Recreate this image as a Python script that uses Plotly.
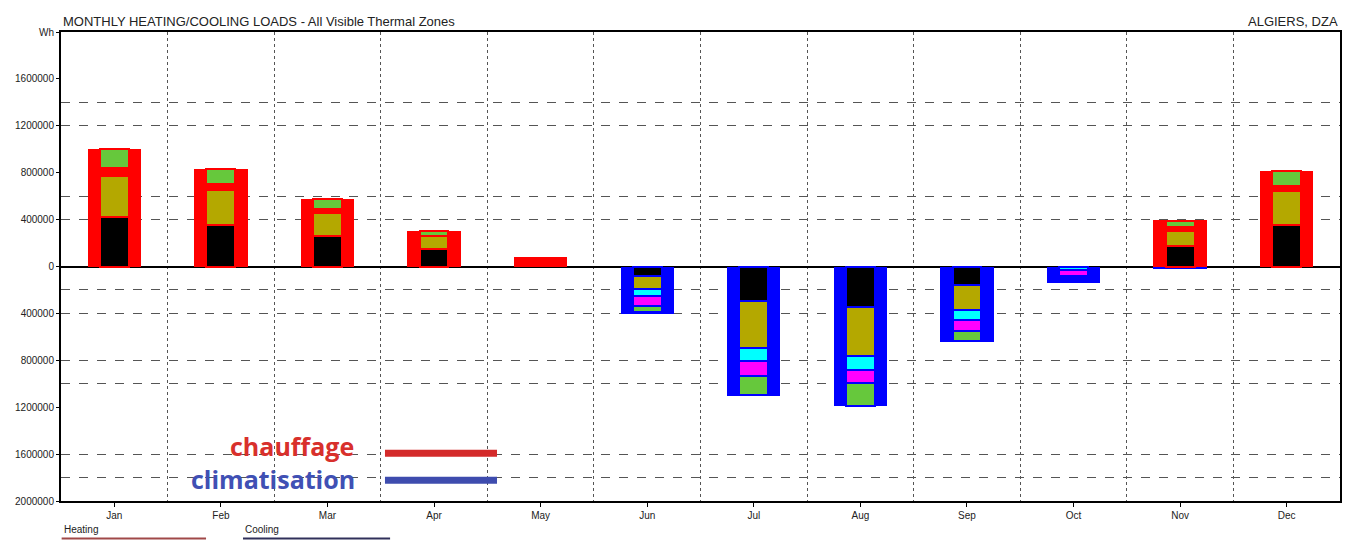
import plotly.graph_objects as go

# ---------------- data ----------------
months = ["Jan", "Feb", "Mar", "Apr", "May", "Jun", "Jul", "Aug", "Sep", "Oct", "Nov", "Dec"]

# total monthly loads (Wh)
heat_total = [998000, 833000, 577000, 299000, 81000, 0, 0, 0, 0, 0, 394000, 812000]
cool_total = [0, 0, 0, 0, 0, -403000, -1106000, -1192000, -640000, -141000, -21000, 0]

# heating breakdown (stacked upward from zero)
heat_black = [426000, 350000, 256000, 149000, 0, 0, 0, 0, 0, 0, 172000, 351000]
heat_olive = [350000, 304000, 199000, 107000, 0, 0, 0, 0, 0, 0, 131000, 290000]
heat_red = [62000, 51000, 37000, 8000, 0, 0, 0, 0, 0, 0, 34000, 43000]
heat_green = [160000, 128000, 85000, 35000, 0, 0, 0, 0, 0, 0, 49000, 128000]

# cooling breakdown (stacked downward from zero)
cool_black = [0, 0, 0, 0, 0, -77000, -290000, -347000, -155000, 0, 0, 0]
cool_olive = [0, 0, 0, 0, 0, -119000, -409000, -418000, -212000, 0, 0, 0]
cool_cyan = [0, 0, 0, 0, 0, -57000, -110000, -115000, -85000, -32000, 0, 0]
cool_magenta = [0, 0, 0, 0, 0, -80000, -122000, -117000, -94000, -46000, 0, 0]
cool_green = [0, 0, 0, 0, 0, -57000, -161000, -189000, -91000, 0, 0, 0]

y_tick_vals = [2000000, 1600000, 1200000, 800000, 400000, 0,
               -400000, -800000, -1200000, -1600000, -2000000]
y_tick_text = ["Wh", "1600000", "1200000", "800000", "400000", "0",
               "400000", "800000", "1200000", "1600000", "2000000"]
y_grid_vals = [1400000, 1200000, 600000, 400000, -200000, -400000,
               -800000, -1000000, -1600000, -1800000]

# ---------------- styles ----------------
RED = "#ff0000"
BLUE = "#0000ff"
C_BLACK = "#000000"
C_OLIVE = "#b4a800"
C_GREEN = "#66c83c"
C_CYAN = "#00ffff"
C_MAGENTA = "#ff00ff"
OUTER_W = 0.5
INNER_W = 0.27

x = list(range(len(months)))


def nz(vals):
    return [v if v != 0 else None for v in vals]


fig = go.Figure()

fig.add_trace(go.Bar(x=x, y=nz(heat_total), width=OUTER_W, marker=dict(color=RED, line=dict(width=0)),
                     name="Heating", showlegend=False))
fig.add_trace(go.Bar(x=x, y=nz(cool_total), width=OUTER_W, marker=dict(color=BLUE, line=dict(width=0)),
                     name="Cooling", showlegend=False))


def add_stack(components, edge):
    base = [0] * len(months)
    for vals, color in components:
        fig.add_trace(go.Bar(
            x=x, y=nz(vals), base=list(base), width=INNER_W,
            marker=dict(color=color, line=dict(color=edge, width=2)),
            showlegend=False))
        base = [b + v for b, v in zip(base, vals)]


add_stack([(heat_black, C_BLACK), (heat_olive, C_OLIVE), (heat_red, RED), (heat_green, C_GREEN)], RED)
add_stack([(cool_black, C_BLACK), (cool_olive, C_OLIVE), (cool_cyan, C_CYAN),
           (cool_magenta, C_MAGENTA), (cool_green, C_GREEN)], BLUE)

FONT = "Liberation Sans, Arial, sans-serif"

# the page body adds an 8px margin, so the figure is 8px smaller and margins are shifted
fig.update_layout(
    width=1344, height=533,
    barmode="overlay",
    bargap=0,
    paper_bgcolor="white",
    plot_bgcolor="white",
    margin=dict(l=53, r=12, t=24, b=40, autoexpand=False),
    font=dict(family=FONT, size=10, color="#222"),
    showlegend=False,
)

fig.update_xaxes(
    range=[-0.5, 11.5],
    tickmode="array", tickvals=x, ticktext=months,
    ticks="outside", ticklen=4, tickcolor="black", tickwidth=1,
    showgrid=False, zeroline=False,
    showline=True, mirror=True, linecolor="black", linewidth=2,
    minor=dict(tickmode="array", tickvals=[i + 0.5 for i in range(11)],
               showgrid=True, gridcolor="#555", griddash="dot", gridwidth=1, ticks=""),
    tickfont=dict(size=10, color="#222"),
)
fig.update_yaxes(
    range=[-2000000, 2000000],
    tickmode="array", tickvals=y_tick_vals, ticktext=y_tick_text,
    ticks="outside", ticklen=3, tickcolor="black",
    showgrid=False,
    zeroline=True, zerolinecolor="black", zerolinewidth=2,
    showline=True, mirror=True, linecolor="black", linewidth=2,
    minor=dict(tickmode="array", tickvals=y_grid_vals, showgrid=True,
               gridcolor="#555", griddash="dash", gridwidth=1, ticks=""),
    tickfont=dict(size=10, color="#222"),
)

# titles
fig.add_annotation(text="MONTHLY HEATING/COOLING LOADS - All Visible Thermal Zones",
                   xref="paper", yref="paper", x=0, y=1.0, xanchor="left", yanchor="bottom",
                   yshift=1, showarrow=False, font=dict(family=FONT, size=13, color="#222"))
fig.add_annotation(text="ALGIERS, DZA",
                   xref="paper", yref="paper", x=1, y=1.0, xanchor="right", yanchor="bottom",
                   yshift=1, showarrow=False, font=dict(family=FONT, size=13, color="#222"))

# overlay labels
BIG = "Open Sans, Noto Sans, sans-serif"
fig.add_annotation(text="<b>chauffage</b>", xref="paper", yref="paper", x=0.2305, y=0.118,
                   xanchor="right", yanchor="middle", showarrow=False,
                   font=dict(family=BIG, size=25, color="#d8302c"))
fig.add_annotation(text="<b>climatisation</b>", xref="paper", yref="paper", x=0.2315, y=0.047,
                   xanchor="right", yanchor="middle", showarrow=False,
                   font=dict(family=BIG, size=25, color="#4050b4"))
fig.add_shape(type="line", xref="paper", yref="paper", x0=0.2533, x1=0.3409, y0=0.1017, y1=0.1017,
              line=dict(color="#d42a2a", width=7))
fig.add_shape(type="line", xref="paper", yref="paper", x0=0.2533, x1=0.3409, y0=0.0441, y1=0.0441,
              line=dict(color="#3e4cae", width=7))

# bottom legend
fig.add_annotation(text="Heating", xref="paper", yref="paper", x=0.0005, y=-0.060,
                   xanchor="left", yanchor="middle", showarrow=False,
                   font=dict(family=FONT, size=10, color="#222"))
fig.add_annotation(text="Cooling", xref="paper", yref="paper", x=0.1423, y=-0.060,
                   xanchor="left", yanchor="middle", showarrow=False,
                   font=dict(family=FONT, size=10, color="#222"))
fig.add_shape(type="line", xref="paper", yref="paper", x0=0.0005, x1=0.1134, y0=-0.0800, y1=-0.0800,
              line=dict(color="#a04848", width=2))
fig.add_shape(type="line", xref="paper", yref="paper", x0=0.1423, x1=0.2573, y0=-0.0800, y1=-0.0800,
              line=dict(color="#30305a", width=2))

fig.write_html("out.html")
